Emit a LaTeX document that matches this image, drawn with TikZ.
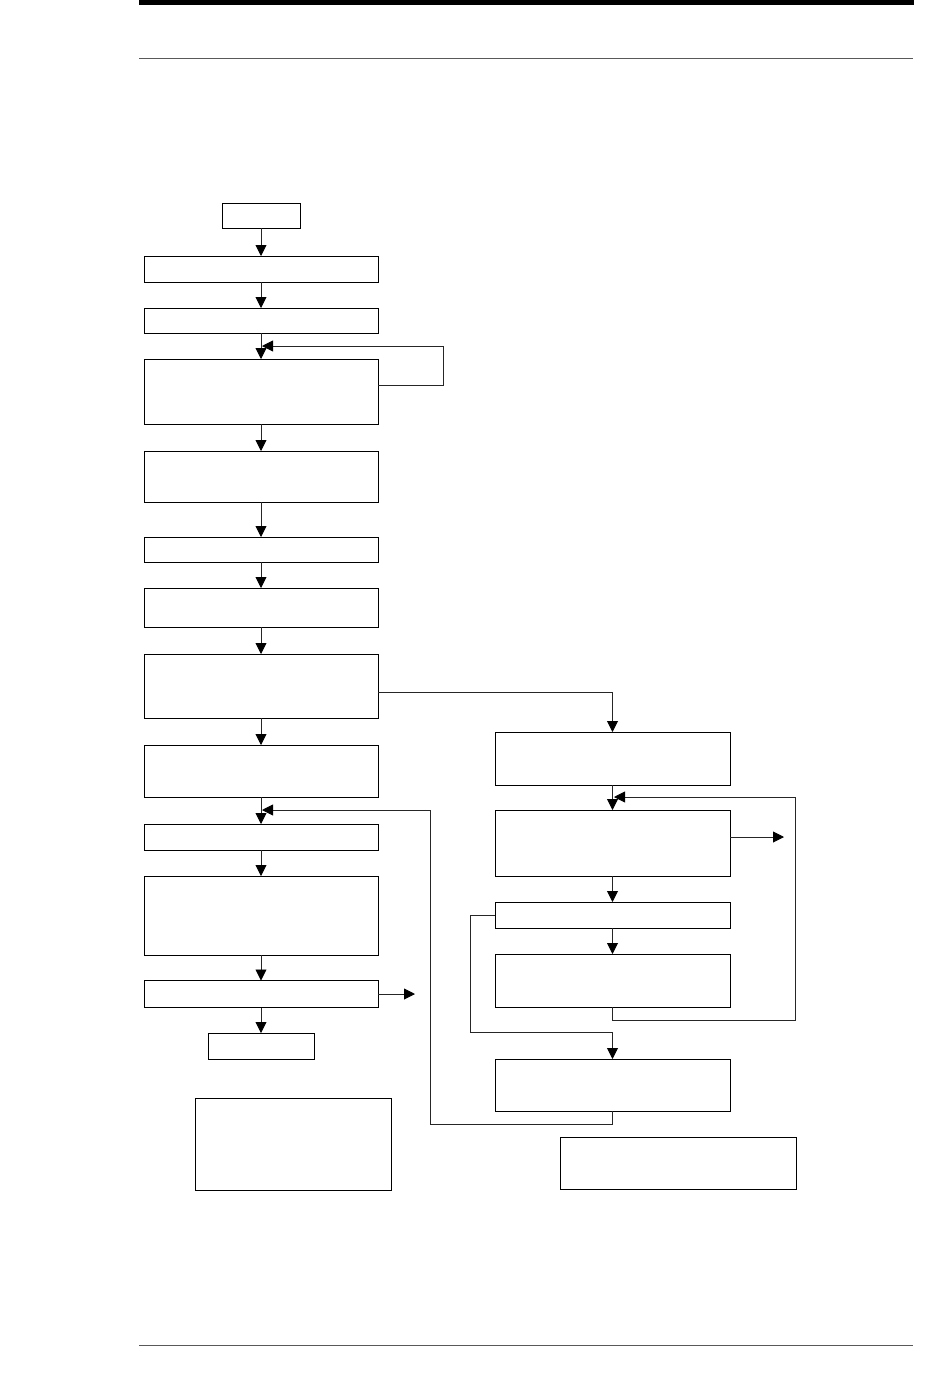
\documentclass[tikz,border=0pt]{standalone}
\usetikzlibrary{arrows.meta}
\begin{document}
\begin{tikzpicture}[x=1pt,y=-1pt,
  box/.style={draw=black,line width=0.9pt,inner sep=0pt,outer sep=0pt,fill=white},
  conn/.style={draw=black!85,line width=0.9pt},
  arr/.style={conn,-{Triangle[length=11pt,width=11pt,color=black]}}]
\useasboundingbox (0,0) rectangle (950,1398);
% page rules
\coordinate (tl) at (139,2.5); \coordinate (tr) at (914,2.5);
\draw[line width=5pt] (tl) -- (tr);
\coordinate (hl) at (139,58); \coordinate (hr) at (913,58);
\draw[line width=1pt,black!65] (hl) -- (hr);
\coordinate (fl) at (139,1345); \coordinate (fr) at (913,1345);
\draw[line width=1pt,black!65] (fl) -- (fr);
% left column
\node[box,minimum width=78pt,minimum height=25pt] (b1) at (261,215.5) {};
\node[box,minimum width=234pt,minimum height=26pt] (b2) at (261,269) {};
\node[box,minimum width=234pt,minimum height=25pt] (b3) at (261,320.5) {};
\node[box,minimum width=234pt,minimum height=65pt] (b4) at (261,391.5) {};
\node[box,minimum width=234pt,minimum height=51pt] (b5) at (261,476.5) {};
\node[box,minimum width=234pt,minimum height=25pt] (b6) at (261,549.5) {};
\node[box,minimum width=234pt,minimum height=39pt] (b7) at (261,607.5) {};
\node[box,minimum width=234pt,minimum height=64pt] (b8) at (261,686) {};
\node[box,minimum width=234pt,minimum height=52pt] (b9) at (261,771) {};
\node[box,minimum width=234pt,minimum height=26pt] (b10) at (261,837) {};
\node[box,minimum width=234pt,minimum height=79pt] (b11) at (261,915.5) {};
\node[box,minimum width=234pt,minimum height=27pt] (b12) at (261,994) {};
\node[box,minimum width=106pt,minimum height=26pt] (b13) at (261,1046) {};
\node[box,minimum width=196pt,minimum height=92pt] (n1) at (293,1144) {};
% right column
\node[box,minimum width=235pt,minimum height=53pt] (r1) at (612.5,758.5) {};
\node[box,minimum width=235pt,minimum height=66pt] (r2) at (612.5,843) {};
\node[box,minimum width=235pt,minimum height=26pt] (r3) at (612.5,915) {};
\node[box,minimum width=235pt,minimum height=53pt] (r4) at (612.5,980.5) {};
\node[box,minimum width=235pt,minimum height=52pt] (r5) at (612.5,1085) {};
\node[box,minimum width=236pt,minimum height=52pt] (n2) at (678,1163) {};
% straight connectors
\foreach \a/\b in {b1/b2,b2/b3,b3/b4,b4/b5,b5/b6,b6/b7,b7/b8,b8/b9,b9/b10,b10/b11,b11/b12,b12/b13,r1/r2,r2/r3,r3/r4}
  \draw[arr] (\a.south) -- (\b.north);
% loop back into b4
\coordinate (l1a) at (378,385); \coordinate (l1b) at (443,346); \coordinate (l1c) at (262,346);
\draw[arr] (l1a) -| (l1b) -- (l1c);
% b8 to r1
\coordinate (c8) at (378,692); \coordinate (c8b) at (612.5,692);
\draw[arr] (c8) -- (c8b) -- (r1.north);
% exits
\coordinate (e2a) at (730,837); \coordinate (e2b) at (784,837);
\draw[arr] (e2a) -- (e2b);
\coordinate (e12) at (415,994);
\draw[arr] (b12.east) -- (e12);
% loop r4 back to r2
\coordinate (q1) at (612.5,1020); \coordinate (q2) at (795,797); \coordinate (q3) at (614,797);
\draw[arr] (r4.south) -- (q1) -| (q2) -- (q3);
% loop r5 back to b10
\coordinate (p1) at (612.5,1124); \coordinate (p2) at (430,810); \coordinate (p3) at (262,810);
\draw[arr] (r5.south) -- (p1) -| (p2) -- (p3);
% r3 to r5
\coordinate (s1) at (470,1032); \coordinate (s2) at (612.5,1032);
\draw[arr] (r3.west) -| (s1) -- (s2) -- (r5.north);
\end{tikzpicture}
\end{document}
